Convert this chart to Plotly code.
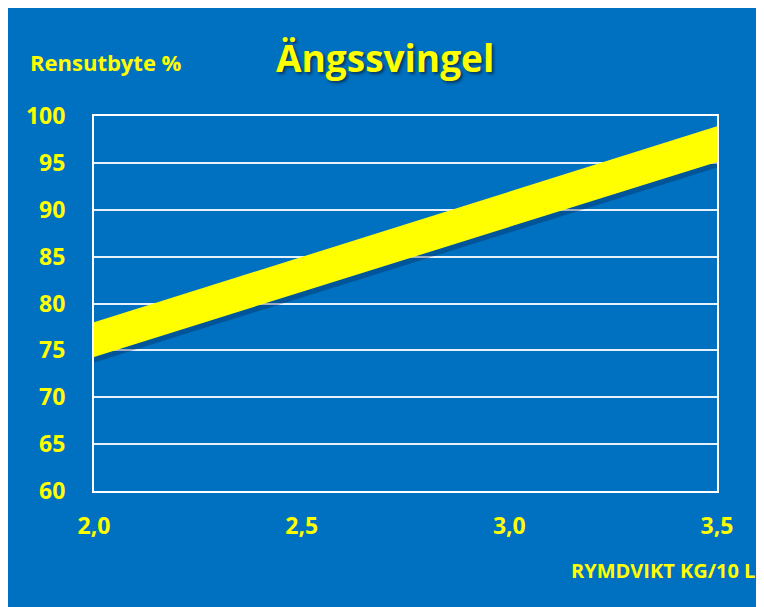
import plotly.graph_objects as go

# Data
x_vals = [2.0, 3.5]
band_upper = [78.0, 98.9]
band_lower = [74.3, 95.1]
shadow_offset = 0.6
x_ticks = [2.0, 2.5, 3.0, 3.5]
y_ticks = [60, 65, 70, 75, 80, 85, 90, 95, 100]

BLUE = "#0070C0"
YELLOW = "#FFFF00"
FONT = "'Open Sans', Lato, sans-serif"

fig = go.Figure()

# soft shadow under the band
fig.add_trace(go.Scatter(x=x_vals, y=band_lower, mode="lines",
                         line=dict(width=0, color="rgba(0,0,0,0)"),
                         hoverinfo="skip", showlegend=False))
fig.add_trace(go.Scatter(x=x_vals, y=[v - shadow_offset for v in band_lower], mode="lines",
                         line=dict(width=0, color="rgba(0,0,0,0)"),
                         fill="tonexty", fillcolor="rgba(0,20,60,0.3)",
                         hoverinfo="skip", showlegend=False))

# yellow band
fig.add_trace(go.Scatter(x=x_vals, y=band_lower, mode="lines",
                         line=dict(width=0, color=YELLOW),
                         hoverinfo="skip", showlegend=False))
fig.add_trace(go.Scatter(x=x_vals, y=band_upper, mode="lines",
                         line=dict(width=0, color=YELLOW),
                         fill="tonexty", fillcolor=YELLOW,
                         showlegend=False))

fig.update_layout(
    width=764, height=607,
    margin=dict(l=86, r=55, t=108, b=124),
    paper_bgcolor=BLUE,
    plot_bgcolor=BLUE,
    separators=", ",
    showlegend=False,
    xaxis=dict(range=[2.0, 3.5], tickvals=x_ticks, tickformat=".1f",
               showgrid=False, zeroline=False,
               showline=True, linecolor="white", linewidth=2, mirror=True,
               ticks="", ticklabelstandoff=13,
               tickfont=dict(family=FONT, size=23, color=YELLOW, weight="bold")),
    yaxis=dict(range=[60, 100], tickvals=y_ticks,
               showgrid=True, gridcolor="rgba(255,255,255,0.9)", gridwidth=1.5,
               zeroline=False,
               showline=True, linecolor="white", linewidth=2, mirror=True,
               ticks="", ticklabelstandoff=22,
               tickfont=dict(family=FONT, size=23, color=YELLOW, weight="bold")),
    annotations=[
        dict(text="Ängssvingel", xref="paper", yref="paper", x=0.467, y=1.157,
             xanchor="center", yanchor="middle", showarrow=False,
             font=dict(family=FONT, size=37, color=YELLOW, weight="bold",
                       shadow="2px 2px 3px rgba(0,0,0,0.5)")),
        dict(text="Rensutbyte %", xref="paper", yref="paper", x=-0.106, y=1.144,
             xanchor="left", yanchor="middle", showarrow=False,
             font=dict(family=FONT, size=22, color=YELLOW, weight="bold")),
        dict(text="RYMDVIKT KG/10 L", xref="paper", yref="paper", x=1.064, y=-0.211,
             xanchor="right", yanchor="middle", showarrow=False,
             font=dict(family=FONT, size=20, color=YELLOW, weight="bold")),
    ],
)

fig.write_html("out.html")
